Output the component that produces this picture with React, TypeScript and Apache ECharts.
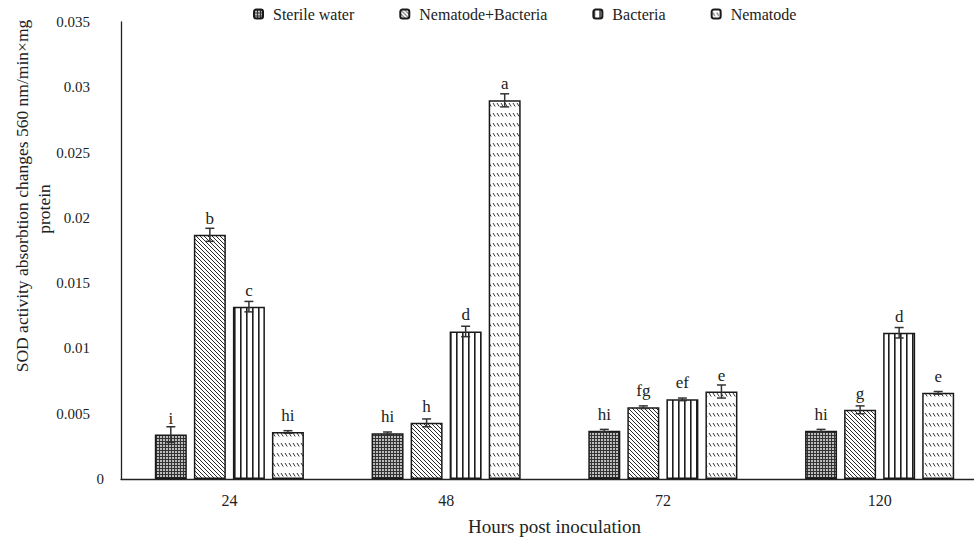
import React, { useEffect, useRef } from "react";
import * as echarts from "echarts";

const categories = ["24", "48", "72", "120"];
const seriesNames = ["Sterile water", "Nematode+Bacteria", "Bacteria", "Nematode"];

const sterileWater = [0.0034, 0.0035, 0.0037, 0.0037];
const nematodeBacteria = [0.0187, 0.0043, 0.0055, 0.0053];
const bacteria = [0.0132, 0.0113, 0.0061, 0.0112];
const nematode = [0.0036, 0.029, 0.0067, 0.0066];

const sterileWaterErr = [0.0006, 0.0001, 0.0001, 0.0001];
const nematodeBacteriaErr = [0.0005, 0.0003, 0.0001, 0.0003];
const bacteriaErr = [0.0004, 0.0004, 0.0001, 0.0004];
const nematodeErr = [0.0001, 0.0005, 0.0005, 0.0001];

const sterileWaterLetters = ["i", "hi", "hi", "hi"];
const nematodeBacteriaLetters = ["b", "h", "fg", "g"];
const bacteriaLetters = ["c", "d", "ef", "d"];
const nematodeLetters = ["hi", "a", "e", "e"];

const yTicks = [0, 0.005, 0.01, 0.015, 0.02, 0.025, 0.03, 0.035];

const SERIF = "Liberation Serif";

function makeTile(w: number, h: number, draw: (ctx: CanvasRenderingContext2D) => void) {
  const c = document.createElement("canvas");
  c.width = w;
  c.height = h;
  const ctx = c.getContext("2d")!;
  draw(ctx);
  return { image: c.toDataURL(), imageWidth: w, imageHeight: h, repeat: "repeat" };
}

export default function App() {
  const ref = useRef<HTMLDivElement>(null);

  useEffect(() => {
    if (!ref.current) return;
    const chart = echarts.init(ref.current, null, { renderer: "svg" });

    const patSterile = makeTile(3, 3, (ctx) => {
      ctx.fillStyle = "#bdbdbd";
      ctx.fillRect(0, 0, 3, 3);
      ctx.fillStyle = "#333333";
      ctx.fillRect(0, 0, 3, 1);
      ctx.fillRect(0, 0, 1, 3);
    });
    const patNB = makeTile(4, 4, (ctx) => {
      ctx.fillStyle = "#ffffff";
      ctx.fillRect(0, 0, 4, 4);
      ctx.strokeStyle = "#2a2a2a";
      ctx.lineWidth = 1.0;
      ctx.beginPath();
      ctx.moveTo(-1, -1);
      ctx.lineTo(5, 5);
      ctx.moveTo(-1, 3);
      ctx.lineTo(1, 5);
      ctx.moveTo(3, -1);
      ctx.lineTo(5, 1);
      ctx.stroke();
    });
    const patB = makeTile(6, 2, (ctx) => {
      ctx.fillStyle = "#ffffff";
      ctx.fillRect(0, 0, 6, 2);
      ctx.fillStyle = "#1e1e1e";
      ctx.fillRect(0, 0, 1.6, 2);
    });
    const patN = makeTile(4, 10, (ctx) => {
      ctx.fillStyle = "#ffffff";
      ctx.fillRect(0, 0, 4, 10);
      ctx.strokeStyle = "#333";
      ctx.lineWidth = 1.0;
      ctx.beginPath();
      ctx.moveTo(1, 3);
      ctx.lineTo(3.2, 6.5);
      ctx.stroke();
    });

    const values = [sterileWater, nematodeBacteria, bacteria, nematode];
    const errs = [sterileWaterErr, nematodeBacteriaErr, bacteriaErr, nematodeErr];
    const letters = [sterileWaterLetters, nematodeBacteriaLetters, bacteriaLetters, nematodeLetters];
    const patterns = [patSterile, patNB, patB, patN];

    const BAR_W = 32;
    const GAP_RATIO = 0.22;

    const barSeries = seriesNames.map((name, s) => ({
      name,
      type: "bar",
      data: values[s],
      barWidth: BAR_W,
      barGap: GAP_RATIO * 100 + "%",
      itemStyle: {
        color: patterns[s] as any,
        borderColor: "#1a1a1a",
        borderWidth: 1.5,
      },
      label: {
        show: true,
        position: "top",
        distance: 8,
        formatter: (p: any) => letters[s][p.dataIndex],
        fontFamily: SERIF,
        fontSize: 17,
        color: "#222",
      },
      z: 2,
    }));

    const errData: number[][] = [];
    values.forEach((arr, s) => {
      arr.forEach((v, i) => {
        errData.push([i, v, errs[s][i], s]);
      });
    });

    const errSeries = {
      type: "custom",
      name: "err",
      data: errData,
      z: 5,
      silent: true,
      renderItem: (params: any, api: any) => {
        const cat = api.value(0);
        const v = api.value(1);
        const e = api.value(2);
        const s = api.value(3);
        const gap = BAR_W * GAP_RATIO;
        const groupW = 4 * BAR_W + 3 * gap;
        const off = -groupW / 2 + BAR_W / 2 + s * (BAR_W + gap);
        const top = api.coord([cat, v + e]);
        const bot = api.coord([cat, v - e]);
        const x = top[0] + off;
        const style = { stroke: "#333", lineWidth: 1.5 };
        return {
          type: "group",
          children: [
            { type: "line", shape: { x1: x, y1: top[1], x2: x, y2: bot[1] }, style },
            { type: "line", shape: { x1: x - 4.5, y1: top[1], x2: x + 4.5, y2: top[1] }, style },
            { type: "line", shape: { x1: x - 4.5, y1: bot[1], x2: x + 4.5, y2: bot[1] }, style },
          ],
        };
      },
    };

    const fmt = (v: number) => String(+v.toFixed(3));

    chart.setOption({
      animation: false,
      backgroundColor: "#ffffff",
      textStyle: { fontFamily: SERIF },
      legend: {
        data: seriesNames,
        left: 253,
        top: 6,
        padding: 0,
        itemWidth: 9,
        itemHeight: 9,
        itemGap: 45,
        formatter: (name: string) => "{s|" + name + "}",
        textStyle: {
          fontFamily: SERIF,
          fontSize: 16,
          color: "#222",
          rich: {
            s: { fontFamily: SERIF, fontSize: 16, color: "#222", padding: [0, 0, 0, 5] },
          },
        },
      },
      grid: { left: 121, right: -14, top: 22, bottom: 58, outerBoundsMode: "none", containLabel: false },
      xAxis: {
        type: "category",
        data: categories,
        axisLine: { lineStyle: { color: "#222", width: 1.3 } },
        axisTick: { show: false },
        axisLabel: { fontFamily: SERIF, fontSize: 16, color: "#222", margin: 13 },
        name: "Hours post inoculation",
        nameLocation: "middle",
        nameGap: 38,
        nameTextStyle: { fontFamily: SERIF, fontSize: 19, color: "#222" },
      },
      yAxis: {
        type: "value",
        min: 0,
        max: 0.035,
        interval: 0.005,
        splitLine: { show: false },
        axisLine: { show: true, lineStyle: { color: "#222", width: 1.3 } },
        axisTick: { show: false },
        axisLabel: {
          margin: 17,
          formatter: (v: number) => {
            const t = yTicks.find((k) => Math.abs(k - v) < 1e-9);
            const val = t === undefined ? v : t;
            return val === 0 ? "{z|0}" : "{n|" + fmt(val) + "}";
          },
          rich: {
            z: { fontFamily: SERIF, fontSize: 15, color: "#222" },
            n: { fontFamily: SERIF, fontSize: 15, color: "#222", padding: [0, 14, 0, 0] },
          },
        },
      },
      graphic: [
        {
          type: "text",
          x: 22,
          y: 196,
          rotation: Math.PI / 2,
          style: {
            text: "SOD activity absorbtion changes 560 nm/min×mg",
            font: "17.5px " + SERIF,
            fill: "#222",
            textAlign: "center",
            textVerticalAlign: "middle",
          },
        },
        {
          type: "text",
          x: 44,
          y: 209,
          rotation: Math.PI / 2,
          style: {
            text: "protein",
            font: "17.5px " + SERIF,
            fill: "#222",
            textAlign: "center",
            textVerticalAlign: "middle",
          },
        },
      ],
      series: [...barSeries, errSeries],
    } as any);

    return () => chart.dispose();
  }, []);

  return (
    <div
      ref={ref}
      style={{ position: "absolute", left: 0, top: 0, width: 974, height: 537 }}
    />
  );
}
